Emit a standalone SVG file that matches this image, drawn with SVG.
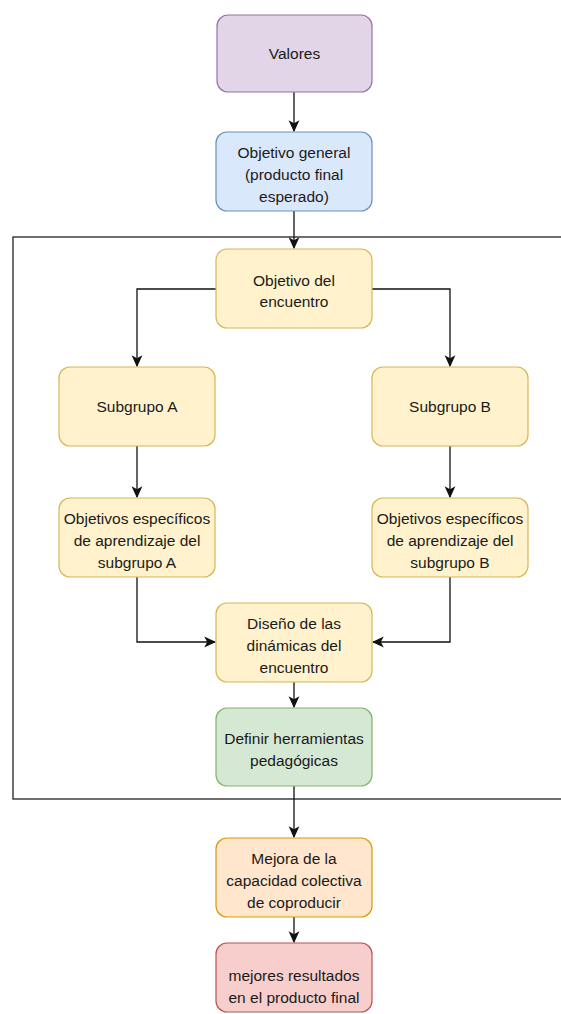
<svg xmlns="http://www.w3.org/2000/svg" width="561" height="1014" viewBox="0 0 561 1014">
<defs>
<style>
.n{stroke-width:1.2}
.t{font-family:"Liberation Sans",Arial,sans-serif;font-size:15.5px;fill:#1a1a1a;text-anchor:middle}
.c{fill:none;stroke:#111;stroke-width:1.3;marker-end:url(#ah)}
.purple{fill:#e1d5e7;stroke:#9673a6}
.blue{fill:#dae8fc;stroke:#6c8ebf}
.yellow{fill:#fff2cc;stroke:#d6b656}
.green{fill:#d5e8d4;stroke:#82b366}
.orange{fill:#ffe6cc;stroke:#d79b00}
.red{fill:#f8cecc;stroke:#b85450}
</style>
<marker id="ah" markerUnits="userSpaceOnUse" markerWidth="12" markerHeight="12" viewBox="0 0 10 10" refX="9" refY="5" orient="auto">
<path d="M0,0.5 L10,5 L0,9.5 L2.5,5 z" fill="#111"/>
</marker>
</defs>
<rect width="561" height="1014" fill="#fff"/>
<g id="container">
<rect x="13" y="237" width="560" height="562" fill="none" stroke="#222" stroke-width="1.3"/>
</g>
<g id="connectors">
<path class="c" d="M294,92 V131"/>
<path class="c" d="M294,211 V248"/>
<path class="c" d="M216,289 H137 V366"/>
<path class="c" d="M372,289 H450 V366"/>
<path class="c" d="M137,446 V497"/>
<path class="c" d="M450,446 V497"/>
<path class="c" d="M137,577 V642 H215"/>
<path class="c" d="M450,577 V642 H373"/>
<path class="c" d="M294,682 V707"/>
<path class="c" d="M294,786 V837"/>
<path class="c" d="M294,917 V942"/>
</g>
<g id="valores">
<rect class="n purple" x="217" y="15" width="155" height="77" rx="11"/>
<text class="t" x="294.5" y="59">Valores</text>
</g>
<g id="objetivo-general">
<rect class="n blue" x="216" y="132" width="156" height="79" rx="11"/>
<text class="t" x="294" y="158">Objetivo general</text>
<text class="t" x="294" y="180">(producto final</text>
<text class="t" x="294" y="202">esperado)</text>
</g>
<g id="objetivo-encuentro">
<rect class="n yellow" x="216" y="249" width="156" height="79" rx="11"/>
<text class="t" x="294" y="286">Objetivo del</text>
<text class="t" x="294" y="307">encuentro</text>
</g>
<g id="subgrupo-a">
<rect class="n yellow" x="59" y="367" width="156" height="79" rx="11"/>
<text class="t" x="137" y="412">Subgrupo A</text>
</g>
<g id="subgrupo-b">
<rect class="n yellow" x="372" y="367" width="156" height="79" rx="11"/>
<text class="t" x="450" y="412">Subgrupo B</text>
</g>
<g id="objetivos-a">
<rect class="n yellow" x="59" y="498" width="156" height="79" rx="11"/>
<text class="t" x="137" y="524">Objetivos específicos</text>
<text class="t" x="137" y="546">de aprendizaje del</text>
<text class="t" x="137" y="568">subgrupo A</text>
</g>
<g id="objetivos-b">
<rect class="n yellow" x="372" y="498" width="156" height="79" rx="11"/>
<text class="t" x="450" y="524">Objetivos específicos</text>
<text class="t" x="450" y="546">de aprendizaje del</text>
<text class="t" x="450" y="568">subgrupo B</text>
</g>
<g id="diseno">
<rect class="n yellow" x="216" y="603" width="156" height="79" rx="11"/>
<text class="t" x="294" y="629">Diseño de las</text>
<text class="t" x="294" y="651">dinámicas del</text>
<text class="t" x="294" y="673">encuentro</text>
</g>
<g id="definir">
<rect class="n green" x="216" y="708" width="156" height="78" rx="11"/>
<text class="t" x="294" y="744">Definir herramientas</text>
<text class="t" x="294" y="766">pedagógicas</text>
</g>
<g id="mejora">
<rect class="n orange" x="216" y="838" width="156" height="79" rx="11"/>
<text class="t" x="294" y="864">Mejora de la</text>
<text class="t" x="294" y="886">capacidad colectiva</text>
<text class="t" x="294" y="908">de coproducir</text>
</g>
<g id="mejores">
<rect class="n red" x="216" y="943" width="156" height="69" rx="11"/>
<text class="t" x="294" y="981">mejores resultados</text>
<text class="t" x="294" y="1003">en el producto final</text>
</g>
</svg>
